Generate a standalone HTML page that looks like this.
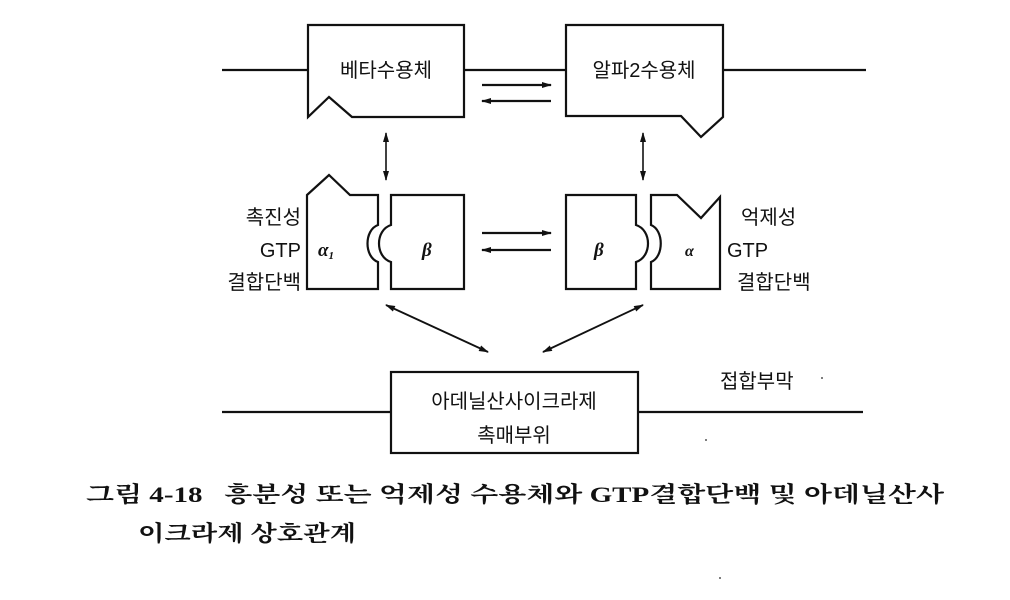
<!DOCTYPE html>
<html><head><meta charset="utf-8"><style>
html,body{margin:0;padding:0;background:#fff;}
svg{display:block;}
text{font-family:"Liberation Sans","Noto Sans CJK KR",sans-serif;fill:#111;}
</style></head><body>
<svg width="1010" height="600" viewBox="0 0 1010 600" xmlns="http://www.w3.org/2000/svg">
<defs>
<marker id="ah" markerWidth="10" markerHeight="8" refX="9" refY="4" orient="auto-start-reverse" markerUnits="userSpaceOnUse">
<path d="M0,1 L10,4 L0,7 Z" fill="#111"/></marker>
</defs>
<g stroke="#111" stroke-width="2.2" fill="none">
<line x1="222" y1="70" x2="308" y2="70"/>
<line x1="464" y1="70" x2="566" y2="70"/>
<line x1="723" y1="70" x2="866" y2="70"/>
<path d="M308,25 L464,25 L464,117 L352,117 L329,97 L308,117 Z" fill="#fff"/>
<path d="M566,25 L723,25 L723,117 L701,137 L681,116 L566,116 Z" fill="#fff"/>
<line x1="482" y1="85" x2="551" y2="85" marker-end="url(#ah)"/>
<line x1="551" y1="101" x2="482" y2="101" marker-end="url(#ah)"/>
<line x1="386" y1="133" x2="386" y2="180" marker-start="url(#ah)" marker-end="url(#ah)" stroke-width="1.6"/>
<line x1="643" y1="133" x2="643" y2="180" marker-start="url(#ah)" marker-end="url(#ah)" stroke-width="1.6"/>
<path d="M307,195 L329,175 L350,195 L378,195 L378,225 C364,230 364,257 378,262 L378,289 L307,289 Z"/>
<path d="M391,195 L464,195 L464,289 L391,289 L391,262 C375,257 375,230 391,225 Z"/>
<line x1="482" y1="233" x2="551" y2="233" marker-end="url(#ah)"/>
<line x1="551" y1="250" x2="482" y2="250" marker-end="url(#ah)"/>
<path d="M566,195 L636,195 L636,225 C652,230 652,257 636,262 L636,289 L566,289 Z"/>
<path d="M651,195 L677,195 L701,218 L720,197 L720,289 L651,289 L651,262 C664,257 664,230 651,225 Z"/>
<line x1="386" y1="305" x2="488" y2="352" marker-start="url(#ah)" marker-end="url(#ah)" stroke-width="1.8"/>
<line x1="643" y1="305" x2="543" y2="352" marker-start="url(#ah)" marker-end="url(#ah)" stroke-width="1.8"/>
<line x1="222" y1="412" x2="391" y2="412"/>
<line x1="638" y1="412" x2="863" y2="412"/>
<rect x="391" y="372" width="247" height="81" fill="#fff"/>
</g>
<g font-size="20">
<text x="386" y="77" text-anchor="middle">베타수용체</text>
<text x="644" y="77" text-anchor="middle">알파2수용체</text>
<text x="301" y="224" text-anchor="end">촉진성</text>
<text x="301" y="257" text-anchor="end">GTP</text>
<text x="301" y="289" text-anchor="end">결합단백</text>
<text x="741" y="224">억제성</text>
<text x="727" y="257">GTP</text>
<text x="737" y="289">결합단백</text>
<text x="514" y="408" text-anchor="middle">아데닐산사이크라제</text>
<text x="514" y="442" text-anchor="middle">촉매부위</text>
<text x="720" y="388">접합부막</text>
</g>
<g font-style="italic" font-weight="bold" font-size="19">
<text x="318" y="256" style="font-family:'Liberation Serif',serif">α<tspan font-size="11" dy="3">1</tspan></text>
<text x="422" y="256" style="font-family:'Liberation Serif',serif">β</text>
<text x="594" y="256" style="font-family:'Liberation Serif',serif">β</text>
<text x="685" y="256" style="font-family:'Liberation Serif',serif" font-size="16">α</text>
</g>
<g font-size="22" font-weight="bold">
<text x="86" y="502" textLength="858" lengthAdjust="spacingAndGlyphs" xml:space="preserve" style="font-family:'Liberation Serif','Noto Serif CJK SC',serif;white-space:pre">그림 4-18   흥분성 또는 억제성 수용체와 GTP결합단백 및 아데닐산사</text>
<text x="138" y="541" textLength="218" lengthAdjust="spacingAndGlyphs" style="font-family:'Liberation Serif','Noto Serif CJK SC',serif">이크라제 상호관계</text>
</g>
<circle cx="822" cy="378" r="1" fill="#555"/>
<circle cx="706" cy="440" r="1" fill="#555"/>
<circle cx="720" cy="578" r="1" fill="#555"/>
</svg>
</body></html>
